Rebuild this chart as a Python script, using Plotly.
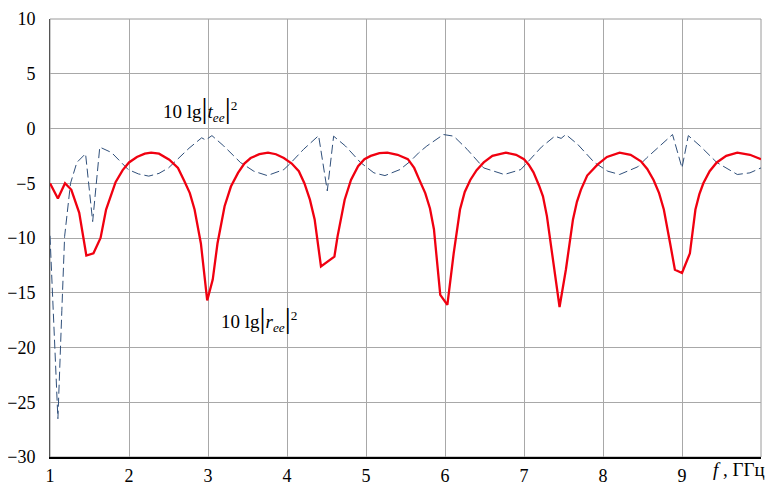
import plotly.graph_objects as go

# 10 lg|r_ee|^2 (red, solid)
r_freq = [1.00, 1.10, 1.19, 1.27, 1.37, 1.46, 1.55, 1.64, 1.71, 1.83, 1.92, 2.00, 2.10, 2.20,
          2.28, 2.38, 2.51, 2.62, 2.70, 2.77, 2.83, 2.91, 2.99, 3.06, 3.12, 3.21, 3.29, 3.38,
          3.46, 3.54, 3.65, 3.76, 3.86, 3.96, 4.06, 4.15, 4.22, 4.29, 4.35, 4.43, 4.60, 4.64,
          4.73, 4.81, 4.90, 4.98, 5.06, 5.17, 5.27, 5.40, 5.53, 5.61, 5.67, 5.75, 5.81, 5.86,
          5.94, 6.03, 6.11, 6.19, 6.25, 6.32, 6.40, 6.49, 6.60, 6.77, 6.90, 7.00, 7.06, 7.12,
          7.19, 7.24, 7.29, 7.34, 7.45, 7.53, 7.62, 7.67, 7.72, 7.80, 7.93, 8.05, 8.21, 8.35,
          8.48, 8.56, 8.64, 8.71, 8.77, 8.85, 8.91, 9.00, 9.10, 9.17, 9.22, 9.27, 9.35, 9.44,
          9.56, 9.70, 9.86, 10.00]
r_db = [-5.0, -6.4, -5.0, -5.6, -7.7, -11.6, -11.4, -10.0, -7.4, -4.9, -3.8, -3.1, -2.6, -2.3,
        -2.2, -2.3, -2.85, -3.6, -4.8, -5.9, -7.4, -10.5, -15.7, -13.8, -10.5, -7.1, -5.3, -4.05,
        -3.2, -2.7, -2.35, -2.2, -2.35, -2.7, -3.2, -3.9, -5.0, -6.5, -8.3, -12.6, -11.7, -9.85,
        -6.5, -4.7, -3.45, -2.8, -2.5, -2.25, -2.2, -2.4, -2.8, -3.6, -4.6, -5.9, -7.3, -9.2,
        -15.2, -16.1, -11.4, -7.4, -5.8, -4.7, -3.8, -3.1, -2.5, -2.2, -2.4, -2.8, -3.3, -4.0,
        -5.2, -6.2, -8.0, -10.5, -16.3, -12.9, -8.3, -6.7, -5.6, -4.3, -3.3, -2.6, -2.2, -2.4,
        -3.0, -3.7, -4.7, -5.9, -7.4, -10.5, -12.9, -13.2, -11.4, -7.4, -6.0, -5.0, -3.9, -3.1,
        -2.5, -2.2, -2.4, -2.8]

# 10 lg|t_ee|^2 (blue, dashed)
t_freq = [1.00, 1.10, 1.15, 1.185, 1.26, 1.34, 1.45, 1.54, 1.63, 1.78, 1.99, 2.12, 2.25, 2.38,
          2.50, 2.61, 2.76, 2.92, 2.97, 3.05, 3.20, 3.41, 3.58, 3.75, 3.96, 4.04, 4.15, 4.21,
          4.40, 4.51, 4.59, 4.74, 4.93, 5.10, 5.24, 5.43, 5.56, 5.67, 5.77, 5.98, 6.11, 6.28,
          6.49, 6.75, 6.96, 7.07, 7.22, 7.39, 7.47, 7.53, 7.68, 7.89, 8.06, 8.21, 8.44, 8.55,
          8.67, 8.88, 9.00, 9.08, 9.23, 9.44, 9.70, 9.86, 10.00]
t_db = [-9.8, -26.5, -16.6, -9.85, -5.0, -3.1, -2.3, -8.5, -1.7, -2.2, -3.75, -4.15, -4.35, -4.1,
        -3.6, -2.8, -1.8, -0.85, -1.05, -0.65, -1.6, -3.1, -3.9, -4.3, -3.75, -3.2, -2.3, -1.9,
        -0.65, -5.7, -0.7, -1.6, -3.1, -4.05, -4.3, -3.75, -3.0, -2.2, -1.6, -0.55, -0.7, -1.9,
        -3.6, -4.2, -3.75, -2.9, -1.7, -0.7, -0.9, -0.55, -1.45, -3.1, -3.9, -4.2, -3.5, -2.7,
        -1.9, -0.55, -3.6, -0.65, -1.6, -3.1, -4.2, -4.05, -3.6]

x_ticks = [1, 2, 3, 4, 5, 6, 7, 8, 9]
y_ticks = [-30, -25, -20, -15, -10, -5, 0, 5, 10]

SERIF = "Liberation Serif"
BAR = "<span style='font-size:30px'>|</span>"

fig = go.Figure()
fig.add_scatter(
    x=t_freq, y=t_db, mode="lines", showlegend=False,
    line=dict(color="#2f4f7a", width=1, dash="9px,4px"),
)
fig.add_scatter(
    x=r_freq, y=r_db, mode="lines", showlegend=False,
    line=dict(color="#f00010", width=2.3),
)

fig.add_annotation(
    x=2.9, y=1.9, showarrow=False,
    text="10 lg" + BAR + "<i>t</i><sub><i>ee</i></sub>" + BAR + "<sup>2</sup>",
    font=dict(family=SERIF, size=19, color="black"),
)
fig.add_annotation(
    x=3.65, y=-17.3, showarrow=False,
    text="10 lg" + BAR + "<i>r</i><sub><i>ee</i></sub>" + BAR + "<sup>2</sup>",
    font=dict(family=SERIF, size=19, color="black"),
)
fig.add_annotation(
    x=9.72, y=0, xref="x", yref="paper", yanchor="top", yshift=0, showarrow=False,
    text="<i>f</i> , ГГц",
    font=dict(family=SERIF, size=19, color="black"),
)

# outer frame (top/right grey)
fig.add_shape(type="rect", xref="paper", yref="paper", x0=0, y0=0, x1=1, y1=1,
              line=dict(color="#9a9a9a", width=1), layer="below")

# page body has an 8px margin, so the figure is 8px smaller than the window
fig.update_layout(
    width=775, height=484,
    margin=dict(l=42, r=22, t=11, b=35),
    paper_bgcolor="white", plot_bgcolor="white",
    font=dict(family=SERIF, size=18, color="black"),
    xaxis=dict(
        range=[1, 10], tickvals=x_ticks, showgrid=True, gridcolor="#a8a8a8", gridwidth=1,
        showline=True, linecolor="black", linewidth=1.5, zeroline=False,
        ticks="", ticklabelstandoff=2, automargin=False,
        tickfont=dict(family=SERIF, size=18, color="black"),
    ),
    yaxis=dict(
        range=[-30, 10], tickvals=y_ticks, showgrid=True, gridcolor="#a8a8a8", gridwidth=1,
        showline=True, linecolor="#555555", linewidth=1, zeroline=False,
        ticks="", ticklabelstandoff=10, automargin=False,
        tickfont=dict(family=SERIF, size=18, color="black"),
    ),
)

fig.write_html("out.html")
